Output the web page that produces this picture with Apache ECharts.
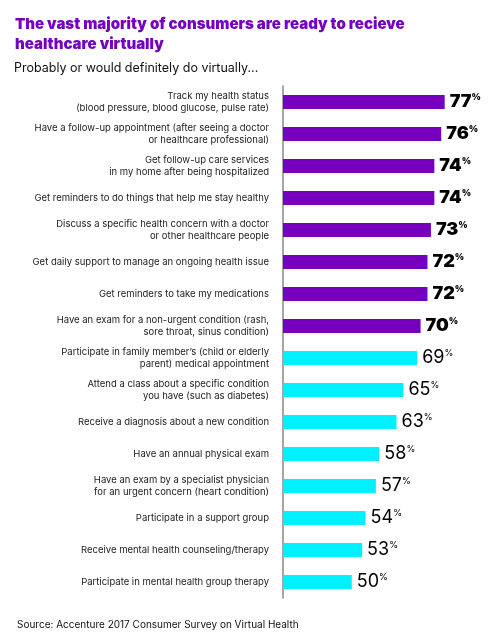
<!DOCTYPE html>
<html><head><meta charset="utf-8">
<script src="https://cdn.jsdelivr.net/npm/echarts@6/dist/echarts.min.js"></script>
<style>html,body{margin:0;padding:0;background:#fff}#c{width:490px;height:635px}</style>
</head><body><div id="c"></div>
<script>
var categories = [
  'Track my health status\n(blood pressure, blood glucose, pulse rate)',
  'Have a follow-up appointment (after seeing a doctor\nor healthcare professional)',
  'Get follow-up care services\nin my home after being hospitalized',
  'Get reminders to do things that help me stay healthy',
  'Discuss a specific health concern with a doctor\nor other healthcare people',
  'Get daily support to manage an ongoing health issue',
  'Get reminders to take my medications',
  'Have an exam for a non-urgent condition (rash,\nsore throat, sinus condition)',
  'Participate in family member\u2019s (child or elderly\nparent) medical appointment',
  'Attend a class about a specific condition\nyou have (such as diabetes)',
  'Receive a diagnosis about a new condition',
  'Have an annual physical exam',
  'Have an exam by a specialist physician\nfor an urgent concern (heart condition)',
  'Participate in a support group',
  'Receive mental health counseling/therapy',
  'Participate in mental health group therapy'
];
var values = [77, 76, 74, 74, 73, 72, 72, 70, 69, 65, 63, 58, 57, 54, 53, 50];
var highlightThreshold = 70;

var PURPLE = '#7500C0', CYAN = '#00F0FF';
var chart = echarts.init(document.getElementById('c'));
chart.setOption({
  animation: false,
  title: [
    {text: 'The vast majority of consumers are ready to recieve\nhealthcare virtually', left: 10, top: 9,
     textStyle: {fontFamily: 'Inter', fontSize: 15, fontWeight: 900, color: PURPLE, lineHeight: 20}},
    {text: 'Probably or would definitely do virtually...', left: 9, top: 55,
     textStyle: {fontFamily: 'Inter', fontSize: 12.5, fontWeight: 400, color: '#111', lineHeight: 16}},
    {text: 'Source: Accenture 2017 Consumer Survey on Virtual Health', left: 12, top: 615,
     textStyle: {fontFamily: 'Inter', fontSize: 10, fontWeight: 400, color: '#111'}}
  ],
  grid: {left: 283, top: 86, width: 172, height: 512, containLabel: false},
  xAxis: {type: 'value', min: 30, max: 80, show: false},
  yAxis: {
    type: 'category', data: categories, inverse: true,
    axisLine: {show: true, lineStyle: {color: '#888', width: 1.5}},
    axisTick: {show: false},
    axisLabel: {margin: 14, fontFamily: 'Inter', fontSize: 9.5, lineHeight: 12, color: '#222', align: 'right'}
  },
  series: [{
    type: 'bar', barWidth: 14,
    data: values.map(function (v) {
      var hi = v >= highlightThreshold;
      return {value: v, itemStyle: {color: hi ? PURPLE : CYAN},
        label: {formatter: hi ? '{b|' + v + '}{bp|%}' : '{r|' + v + '}{rp|%}'}};
    }),
    label: {
      show: true, position: 'right', distance: 5,
      rich: {
        b: {fontFamily: 'Inter', fontSize: 18, fontWeight: 900, color: '#000', height: 18},
        bp: {fontFamily: 'Inter', fontSize: 9, fontWeight: 900, color: '#000', verticalAlign: 'top', padding: [0, 0, 9, 0]},
        r: {fontFamily: 'Inter', fontSize: 18, fontWeight: 400, color: '#000', height: 18},
        rp: {fontFamily: 'Inter', fontSize: 9, fontWeight: 400, color: '#000', verticalAlign: 'top', padding: [0, 0, 9, 0]}
      }
    }
  }]
});
</script></body></html>
